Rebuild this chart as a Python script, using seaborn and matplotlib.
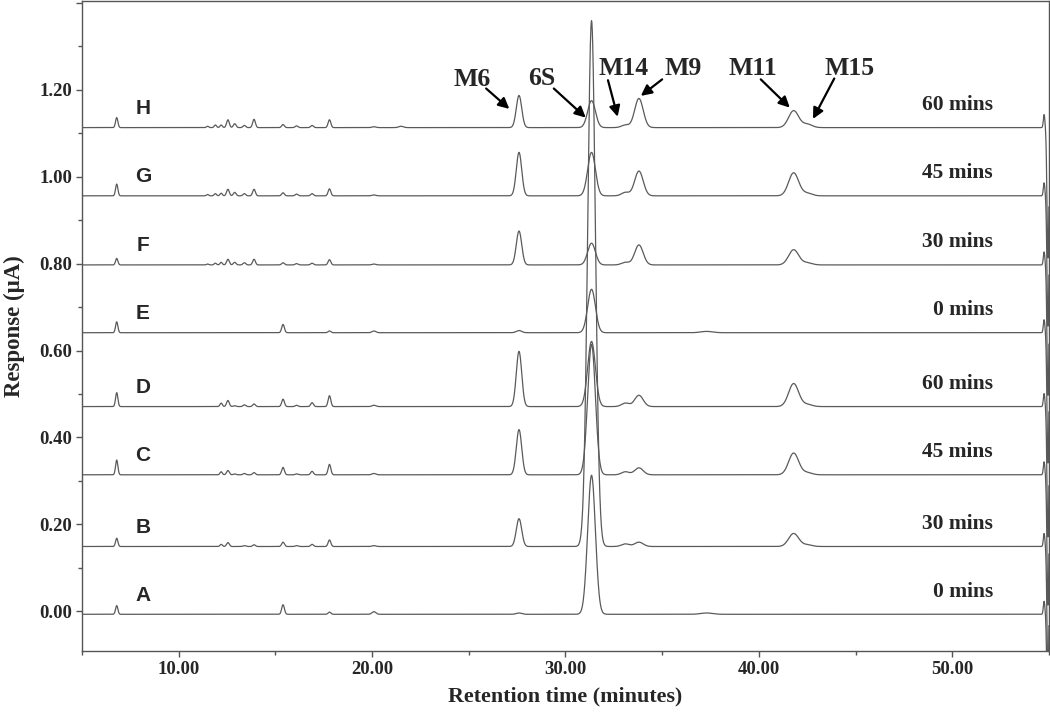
import numpy as np
import pandas as pd
import matplotlib
matplotlib.use("Agg")
import matplotlib.pyplot as plt
from matplotlib.ticker import MultipleLocator, FormatStrFormatter
import seaborn as sns

# ---- data ----
traces = ["A", "B", "C", "D", "E", "F", "G", "H"]
times = ["0 mins", "30 mins", "45 mins", "60 mins", "0 mins", "30 mins", "45 mins", "60 mins"]
baseline = [-0.007, 0.149, 0.314, 0.471, 0.641, 0.797, 0.956, 1.113]

# peak retention times (min) and widths (sigma, min)
rt_min = [6.8, 11.5, 11.9, 12.2, 12.55, 12.9, 13.4, 13.9, 15.4, 16.1, 16.9, 17.8,
          20.1, 21.5, 27.6, 31.35, 33.1, 33.8, 37.3, 41.8, 42.5, 54.75, 54.95]
sigma_min = [0.06, 0.06, 0.06, 0.06, 0.07, 0.07, 0.07, 0.07, 0.07, 0.07, 0.07, 0.07,
             0.1, 0.12, 0.14, 0.2, 0.2, 0.22, 0.3, 0.26, 0.25, 0.04, 0.05]

# peak heights (uA) per trace, same order as rt_min
h_A = [.020, 0, 0, 0, 0, 0, 0, 0, .022, 0, 0, .005, .006, 0, .003, .32, 0, 0, .003, 0, 0, .03, -.3]
h_B = [.019, 0, 0, .005, .009, 0, .002, .004, .010, .002, .005, .015, .002, 0, .064, 1.21, .006, .010, 0, .030, .004, .03, -.3]
h_C = [.034, 0, 0, .007, .010, .002, .003, .005, .017, .002, .008, .024, .003, 0, .104, .30, .007, .016, 0, .050, .005, .03, -.3]
h_D = [.032, 0, 0, .008, .014, .002, .004, .006, .017, .003, .009, .025, .003, 0, .127, .15, .008, .026, 0, .053, .005, .03, -.3]
h_E = [.025, 0, 0, 0, 0, 0, 0, 0, .019, 0, 0, .004, .004, 0, .005, .10, 0, 0, .003, 0, 0, .03, -.3]
h_F = [.015, .002, .004, .006, .013, .006, .005, .013, .005, .003, .004, .012, .002, 0, .078, .05, .006, .046, 0, .035, .005, .03, -.3]
h_G = [.027, .003, .005, .006, .015, .008, .005, .015, .007, .004, .005, .016, .002, 0, .100, .10, .008, .057, 0, .053, .006, .03, -.3]
h_H = [.023, .003, .006, .006, .018, .009, .005, .019, .007, .004, .005, .018, .002, .003, .074, .062, .006, .067, 0, .039, .008, .03, -.3]
heights = [h_A, h_B, h_C, h_D, h_E, h_F, h_G, h_H]

# peak annotations: name, text pos, arrow tail, arrow head
ann_names = ["M6", "6S", "M14", "M9", "M11", "M15"]
ann_text = [(25.2, 1.223), (28.8, 1.225), (33.0, 1.25), (36.1, 1.25), (39.7, 1.25), (44.7, 1.25)]
ann_tail = [(25.9, 1.203), (29.4, 1.203), (32.2, 1.222), (35.0, 1.224), (40.1, 1.224), (43.9, 1.226)]
ann_head = [(27.1, 1.156), (31.05, 1.136), (32.7, 1.138), (33.9, 1.186), (41.6, 1.159), (42.8, 1.133)]

# ---- build traces from the peak table ----
x = np.arange(5.0, 55.01, 0.01)
rows = []
for name, base, hs in zip(traces, baseline, heights):
    y = np.full_like(x, base)
    for r, s, h in zip(rt_min, sigma_min, hs):
        if h != 0:
            y += h * np.exp(-0.5 * ((x - r) / s) ** 2)
    rows.append(pd.DataFrame({"time": x, "response": y, "trace": name}))
df = pd.concat(rows, ignore_index=True)

sns.set_style("ticks")
plt.rcParams["font.family"] = ["Liberation Serif", "DejaVu Serif"]

fig = plt.figure(figsize=(10.5, 7.18), dpi=100)
ax = fig.add_axes([0.078, 0.093, 0.921, 0.906])

sns.lineplot(data=df, x="time", y="response", hue="trace", units="trace",
             estimator=None, palette=["#5a5a5a"] * len(traces), linewidth=0.9,
             legend=False, ax=ax)

ax.set_xlim(5, 55)
ax.set_ylim(-0.092, 1.405)
ax.xaxis.set_major_locator(MultipleLocator(10))
ax.xaxis.set_minor_locator(MultipleLocator(5))
ax.yaxis.set_major_locator(MultipleLocator(0.2))
ax.yaxis.set_minor_locator(MultipleLocator(0.1))
ax.xaxis.set_major_formatter(FormatStrFormatter("%.2f"))
ax.yaxis.set_major_formatter(FormatStrFormatter("%.2f"))
ax.tick_params(which="major", length=4, width=1, color="#555555", labelsize=13.5, pad=3)
ax.tick_params(which="minor", length=3, width=1, color="#555555")
for lab in ax.get_xticklabels() + ax.get_yticklabels():
    lab.set_fontweight("bold")
# reference shows no label at the very top tick
ax.get_yticklabels()[-1].set_visible(False)
for lab in ax.get_yticklabels():
    if lab.get_text() == "1.40":
        lab.set_visible(False)
for sp in ax.spines.values():
    sp.set_visible(True)
    sp.set_color("#555555")
    sp.set_linewidth(1.0)

ax.set_xlabel("Retention time (minutes)", fontsize=15.8, fontweight="bold", labelpad=6)
ax.set_ylabel("Response (μA)", fontsize=16.5, fontweight="bold", labelpad=10)

for name, t, base in zip(traces, times, baseline):
    ax.text(8.15, base + 0.044, name, fontsize=15, fontweight="bold",
            family=["Liberation Sans", "DejaVu Sans"], ha="center", va="center")
    ax.text(52.1, base + 0.052, t, fontsize=15.5, fontweight="bold",
            ha="right", va="center")

for name, tp, tail, head in zip(ann_names, ann_text, ann_tail, ann_head):
    ax.text(tp[0], tp[1], name, fontsize=18.5, fontweight="bold", ha="center", va="center")
    ax.annotate("", xy=head, xytext=tail,
                arrowprops=dict(arrowstyle="-|>", color="black", lw=1.6,
                                mutation_scale=16, shrinkA=0, shrinkB=0))

fig.canvas.draw()
for lab in ax.get_yticklabels():
    if lab.get_text() == "1.40":
        lab.set_visible(False)

fig.savefig("out.png", dpi=100)
